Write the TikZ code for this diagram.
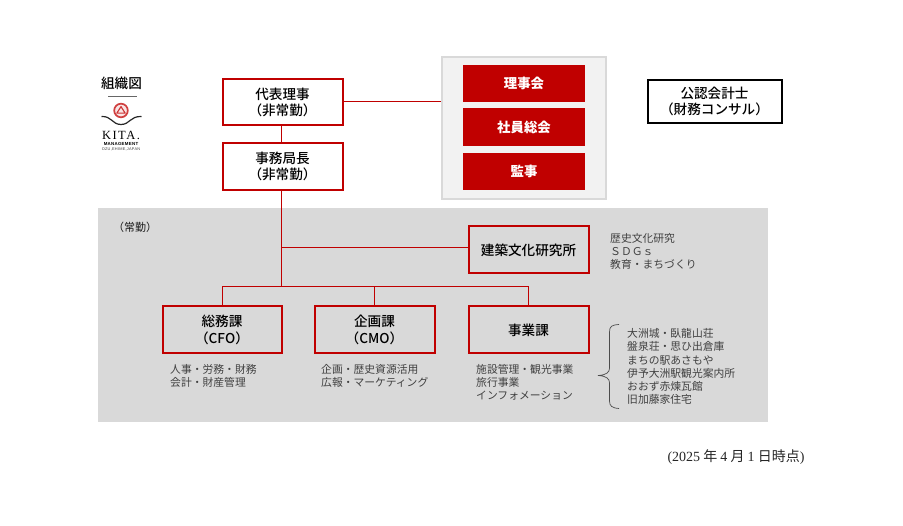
\documentclass[tikz,border=0pt]{standalone}
\usepackage{fontspec}
\setmainfont{Noto Sans CJK JP}
\newfontfamily\serifnum{Liberation Serif}
\newfontfamily\medfont{Noto Sans CJK JP Medium}
\newfontfamily\logofont[LetterSpace=12]{Liberation Serif}
\newfontfamily\logosmall[LetterSpace=6]{Liberation Sans}
\definecolor{kitared}{HTML}{C00000}
\definecolor{panelgray}{HTML}{D9D9D9}
\definecolor{outergray}{HTML}{F2F2F2}
\tikzset{
  redbox/.style={draw=kitared,line width=2pt,fill=white,align=center,inner sep=0pt,
    font=\medfont\fontsize{13.6}{16.2}\selectfont},
  graybox/.style={redbox,fill=none},
  solidbox/.style={fill=kitared,text=white,align=center,inner sep=0pt,minimum width=122pt,
    font=\fontsize{13.4}{16.2}\selectfont\bfseries},
  note/.style={anchor=north west,align=left,inner sep=0pt,text=black!75,
    font=\fontsize{10.8}{13.2}\selectfont},
  link/.style={draw=kitared,line width=1pt},
}
\begin{document}
\begin{tikzpicture}[x=1pt,y=-1pt]
  \useasboundingbox (0,0) rectangle (903,526);
  \fill[white] (0,0) rectangle (903,526);
  \node[fill=panelgray,minimum width=670pt,minimum height=214pt,inner sep=0pt] (panel) at (433,315) {};
  \node[draw=panelgray,line width=2pt,fill=outergray,minimum width=164pt,minimum height=142pt,inner sep=0pt] (outer) at (523.5,128.5) {};
  % top row
  \node[redbox,minimum width=120pt,minimum height=46pt] (daihyo) at (282.5,102.5) {\raisebox{1pt}{代表理事}\\\raisebox{1pt}{（非常勤）}};
  \node[redbox,minimum width=120pt,minimum height=47pt] (jimu) at (282.5,166.5) {\raisebox{1pt}{事務局長}\\\raisebox{1pt}{（非常勤）}};
  \node[solidbox,minimum height=37pt] (riji) at (524,83.5) {\raisebox{1pt}{理事会}};
  \node[solidbox,minimum height=38pt] (shain) at (524,127) {\raisebox{1pt}{社員総会}};
  \node[solidbox,minimum height=37pt] (kanji) at (524,171.5) {\raisebox{1pt}{監事}};
  \node[draw=black,line width=2pt,fill=white,align=center,inner sep=0pt,minimum width=134pt,minimum height=43pt,
    font=\medfont\fontsize{13.6}{16.2}\selectfont] (kaikei) at (714.5,101.5) {公認会計士\\（財務コンサル）};
  % full time staff
  \node[graybox,minimum width=120pt,minimum height=47pt] (kenchiku) at (528.5,250) {\raisebox{1pt}{建築文化研究所}};
  \node[graybox,minimum width=119pt,minimum height=47pt] (somu) at (222,330) {\raisebox{1pt}{総務課}\\\raisebox{1pt}{（CFO）}};
  \node[graybox,minimum width=120pt,minimum height=47pt] (kikaku) at (374.5,330) {\raisebox{1pt}{企画課}\\\raisebox{1pt}{（CMO）}};
  \node[graybox,minimum width=120pt,minimum height=47pt] (jigyo) at (528.5,330) {\raisebox{1pt}{事業課}};
  % connectors
  \coordinate (busbar) at (281,287);
  \coordinate (kenbar) at (281,248);
  \draw[link] (daihyo.east |- 0,102) -- (outer.west |- 0,102);
  \draw[link] (daihyo.south -| 281,0) -- (jimu.north -| 281,0);
  \draw[link] (jimu.south -| 281,0) -- (busbar);
  \draw[link] (kenbar) -- (kenchiku.west |- kenbar);
  \draw[link] (somu.north) -- (somu.north |- busbar) -- (jigyo.north |- busbar) -- (jigyo.north);
  \draw[link] (kikaku.north) -- (kikaku.north |- busbar);
  % labels
  \node[inner sep=0pt,font=\medfont\fontsize{13.6}{16}\selectfont] (title) at (121.5,83) {組織図};
  \node[inner sep=0pt,font=\fontsize{11}{13}\selectfont,text=black!90] (jokin) at (135,227.5) {（常勤）};
  \node[note] (kennote) at (610,233) {歴史文化研究\\ＳＤＧｓ\\教育・まちづくり};
  \node[note] (somunote) at (170,364) {人事・労務・財務\\会計・財産管理};
  \node[note] (kikakunote) at (321,364) {企画・歴史資源活用\\広報・マーケティング};
  \node[note] (jigyonote) at (476,364) {施設管理・観光事業\\旅行事業\\インフォメーション};
  \node[note] (shisetsu) at (627,328.5) {大洲城・臥龍山荘\\盤泉荘・思ひ出倉庫\\まちの駅あさもや\\伊予大洲駅観光案内所\\おおず赤煉瓦館\\旧加藤家住宅};
  \node[inner sep=0pt,font=\fontsize{14}{16}\selectfont,text=black!85] (jiten) at (736,457.5) {{\serifnum (2025} 年 {\serifnum 4} 月 {\serifnum 1} 日時点{\serifnum )}};
  % brace
  \draw[black!70,line width=0.7pt] (619,324.5) .. controls (612,325) and (609.5,326) .. (609.5,332) -- (609.5,368)
    .. controls (609.5,372) and (607,375) .. (598,375.5) .. controls (607,376) and (609.5,379) .. (609.5,383) -- (609.5,401)
    .. controls (609.5,406) and (612,408) .. (619,408.5);
  % logo
  \draw[black!60,line width=0.6pt] (108,96) -- (137,96);
  \draw[kitared!75,line width=1.7pt,fill=kitared!10] (121,110.5) circle (6.8);
  \draw[kitared!80,line width=1.1pt,line join=round] (121,106.6) -- (125.2,113.2) -- (116.8,113.2) -- cycle;
  \draw[black!85,line width=1.2pt] (101.5,116.5) .. controls (112,116) and (112,124.5) .. (121,124.5)
    .. controls (130,124.5) and (130,116) .. (141.5,116.5);
  \node[inner sep=0pt,font=\logofont\fontsize{12.5}{13}\selectfont] (kita) at (121,135) {KITA.};
  \node[inner sep=0pt,font=\logosmall\bfseries\fontsize{4.4}{5}\selectfont] (manage) at (121,143.5) {MANAGEMENT};
  \node[inner sep=0pt,font=\logosmall\fontsize{3.9}{4}\selectfont,text=black!75] (ozu) at (121,149.5) {OZU,EHIME,JAPAN};
\end{tikzpicture}
\end{document}
